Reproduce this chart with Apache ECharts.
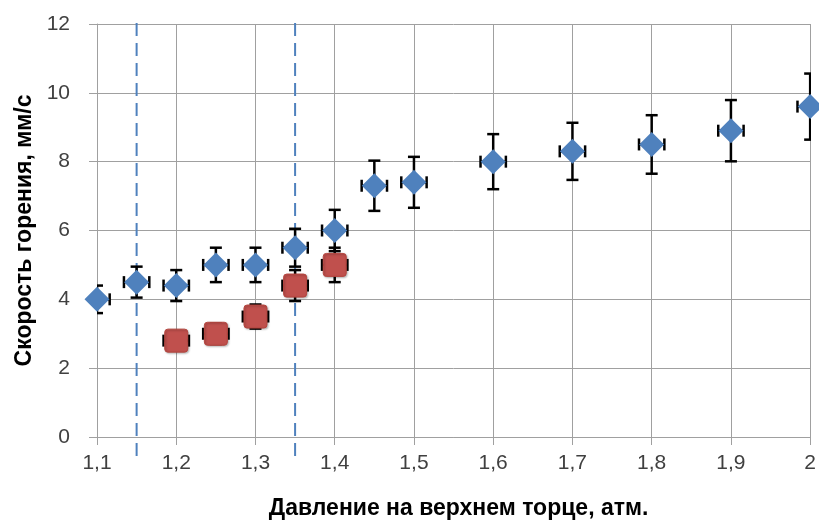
<!DOCTYPE html>
<html><head><meta charset="utf-8">
<script src="https://cdn.jsdelivr.net/npm/echarts@6/dist/echarts.min.js"></script>
<style>html,body{margin:0;padding:0;background:#fff}#c{width:819px;height:525px}</style>
</head><body><div id="c"></div>
<script>
// Data
const blueX   = [1.10, 1.15, 1.20, 1.25, 1.30, 1.35, 1.40, 1.45, 1.50, 1.60, 1.70, 1.80, 1.90, 2.00];
const blueY   = [4.0, 4.5, 4.4, 5.0, 5.0, 5.5, 6.0, 7.3, 7.4, 8.0, 8.3, 8.5, 8.9, 9.6];
const blueErr = [0.4, 0.45, 0.45, 0.5, 0.5, 0.55, 0.6, 0.73, 0.74, 0.8, 0.83, 0.85, 0.89, 0.96];
const redX    = [1.20, 1.25, 1.30, 1.35, 1.40];
const redY    = [2.8, 3.0, 3.5, 4.4, 5.0];
const redErr  = [0.28, 0.3, 0.35, 0.45, 0.5];
const xErr    = 0.016;
const dashX   = [1.15, 1.35];
const dashYRange = [-0.55, 12.05];
const xTicks  = {min: 1.1, max: 2.0, interval: 0.1};
const yTicks  = {min: 0, max: 12, interval: 2};

const font = 'Liberation Sans';
const chart = echarts.init(document.getElementById('c'), null, {renderer: 'canvas'});

function errData(xs, ys, es) {
  return xs.map((x, i) => [x, ys[i], es[i], xErr]);
}
function errRender(params, api) {
  const x = api.value(0), y = api.value(1), e = api.value(2), ex = api.value(3);
  const top = api.coord([x, y + e]);
  const bot = api.coord([x, y - e]);
  const lft = api.coord([x - ex, y]);
  const rgt = api.coord([x + ex, y]);
  const cap = 6;
  const st = {stroke: '#000', lineWidth: 2.5};
  return {
    type: 'group',
    children: [
      {type: 'line', shape: {x1: top[0], y1: top[1], x2: bot[0], y2: bot[1]}, style: st},
      {type: 'line', shape: {x1: top[0]-cap, y1: top[1], x2: top[0]+cap, y2: top[1]}, style: st},
      {type: 'line', shape: {x1: bot[0]-cap, y1: bot[1], x2: bot[0]+cap, y2: bot[1]}, style: st},
      {type: 'line', shape: {x1: lft[0], y1: lft[1], x2: rgt[0], y2: rgt[1]}, style: st},
      {type: 'line', shape: {x1: lft[0], y1: lft[1]-cap, x2: lft[0], y2: lft[1]+cap}, style: st},
      {type: 'line', shape: {x1: rgt[0], y1: rgt[1]-cap, x2: rgt[0], y2: rgt[1]+cap}, style: st}
    ]
  };
}

const dashSeries = dashX.map(x => ({
  type: 'line', data: [[x, dashYRange[0]], [x, dashYRange[1]]],
  symbol: 'none', clip: false, silent: true, z: 1,
  lineStyle: {color: '#4f81bd', width: 2, type: [13, 7]}
}));

const squarePath = 'path://M3,0 H19 Q22,0 22,3 V19 Q22,22 19,22 H3 Q0,22 0,19 V3 Q0,0 3,0 Z';

chart.setOption({
  animation: false,
  backgroundColor: '#fff',
  grid: {left: 97, right: 4, top: 24, bottom: 85},
  xAxis: {
    type: 'value', min: xTicks.min, max: xTicks.max, interval: xTicks.interval,
    name: 'Давление на верхнем торце, атм.', nameLocation: 'middle', nameGap: 60,
    nameTextStyle: {fontFamily: font, fontWeight: 'bold', fontSize: 23, color: '#000', padding: [0, 0, 0, 10]},
    axisLine: {show: true, lineStyle: {color: '#a0a0a0', width: 1}},
    axisTick: {show: true, length: 8, lineStyle: {color: '#a0a0a0'}},
    axisLabel: {fontFamily: font, fontSize: 21, color: '#404040', margin: 16,
      formatter: v => String(+v.toFixed(1)).replace('.', ',')},
    splitLine: {show: true, lineStyle: {color: '#a0a0a0', width: 1}}
  },
  yAxis: {
    type: 'value', min: yTicks.min, max: yTicks.max, interval: yTicks.interval,
    name: 'Скорость горения, мм/с', nameLocation: 'middle', nameGap: 59,
    nameTextStyle: {fontFamily: font, fontWeight: 'bold', fontSize: 23, color: '#000'},
    axisLine: {show: true, lineStyle: {color: '#a0a0a0', width: 1}},
    axisTick: {show: true, length: 8, lineStyle: {color: '#a0a0a0'}},
    axisLabel: {fontFamily: font, fontSize: 21, color: '#404040', margin: 27},
    splitLine: {show: true, lineStyle: {color: '#a0a0a0', width: 1}}
  },
  series: [
    ...dashSeries,
    {type: 'custom', renderItem: errRender, data: errData(blueX, blueY, blueErr), clip: true, z: 2, silent: true},
    {type: 'scatter', data: blueX.map((x, i) => [x, blueY[i]]), symbol: 'diamond', symbolSize: 25,
      itemStyle: {color: '#4f81bd', opacity: 1}, z: 3},
    {type: 'custom', renderItem: errRender, data: errData(redX, redY, redErr), clip: true, z: 4, silent: true},
    {type: 'scatter', data: redX.map((x, i) => [x, redY[i]]), symbol: squarePath, symbolSize: 23,
      itemStyle: {color: '#c0504d', borderColor: '#b5463f', borderWidth: 1, opacity: 1,
        shadowColor: 'rgba(0,0,0,0.25)', shadowBlur: 2, shadowOffsetX: 1, shadowOffsetY: 1}, z: 5}
  ]
});
</script></body></html>
